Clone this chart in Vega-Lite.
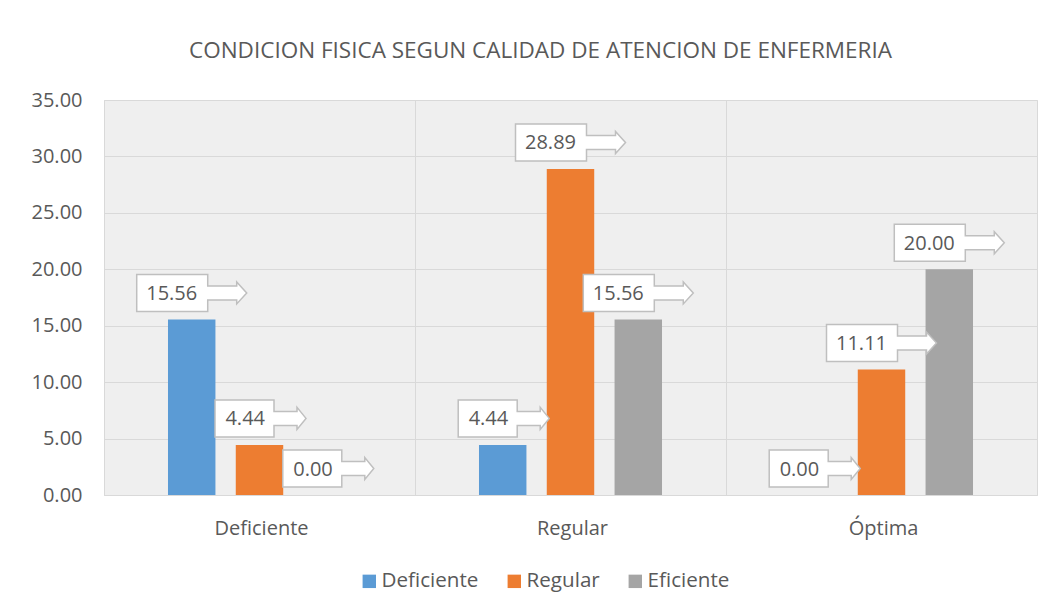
{
  "$schema": "https://vega.github.io/schema/vega-lite/v6.json",
  "width": 933,
  "height": 395,
  "autosize": {"type": "none"},
  "padding": {"left": 104, "top": 100, "right": 17, "bottom": 115},
  "background": "white",
  "title": {
    "text": "CONDICION FISICA SEGUN CALIDAD DE ATENCION DE ENFERMERIA",
    "anchor": "middle",
    "frame": "group",
    "dx": -30,
    "offset": 10,
    "baseline": "alphabetic",
    "font": "Open Sans",
    "fontSize": 22.5,
    "fontWeight": "normal",
    "color": "#595959"
  },
  "data": {
    "values": [
      {"grupo": "Deficiente", "serie": "Deficiente", "valor": 15.56},
      {"grupo": "Deficiente", "serie": "Regular", "valor": 4.44},
      {"grupo": "Deficiente", "serie": "Eficiente", "valor": 0.0},
      {"grupo": "Regular", "serie": "Deficiente", "valor": 4.44},
      {"grupo": "Regular", "serie": "Regular", "valor": 28.89},
      {"grupo": "Regular", "serie": "Eficiente", "valor": 15.56},
      {"grupo": "Óptima", "serie": "Deficiente", "valor": 0.0},
      {"grupo": "Óptima", "serie": "Regular", "valor": 11.11},
      {"grupo": "Óptima", "serie": "Eficiente", "valor": 20.0}
    ]
  },
  "encoding": {
    "x": {
      "field": "grupo",
      "type": "nominal",
      "sort": ["Deficiente", "Regular", "Óptima"],
      "scale": {"paddingInner": 0, "paddingOuter": 0},
      "axis": {
        "title": null,
        "labelAngle": 0,
        "bandPosition": 0,
        "labelOffset": 2,
        "labelFont": "Open Sans",
        "labelFontSize": 20,
        "labelColor": "#595959",
        "labelPadding": 23,
        "ticks": false,
        "domain": true,
        "domainColor": "#d9d9d9",
        "grid": true,
        "gridColor": "#d9d9d9"
      }
    },
    "xOffset": {
      "field": "serie",
      "type": "nominal",
      "sort": ["Deficiente", "Regular", "Eficiente"],
      "scale": {"paddingInner": 0.3, "paddingOuter": 0.944}
    },
    "y": {
      "field": "valor",
      "type": "quantitative",
      "scale": {"domain": [0, 35]},
      "axis": {
        "title": null,
        "values": [0, 5, 10, 15, 20, 25, 30, 35],
        "format": ".2f",
        "labelFont": "Open Sans",
        "labelFontSize": 20,
        "labelColor": "#595959",
        "labelPadding": 22,
        "ticks": false,
        "domain": false,
        "grid": true,
        "gridColor": "#d9d9d9"
      }
    }
  },
  "layer": [
    {
      "mark": {"type": "bar"},
      "encoding": {
        "color": {
          "field": "serie",
          "type": "nominal",
          "sort": ["Deficiente", "Regular", "Eficiente"],
          "scale": {"domain": ["Deficiente", "Regular", "Eficiente"], "range": ["#5b9bd5", "#ed7d31", "#a5a5a5"]},
          "legend": {
            "title": null,
            "orient": "none",
            "legendX": 255,
            "legendY": 471,
            "direction": "horizontal",
            "symbolType": "square",
            "symbolSize": 180,
            "symbolStrokeWidth": 0,
            "labelFont": "Open Sans",
            "labelFontSize": 20.6,
            "labelColor": "#595959",
            "labelOffset": 2,
            "columnPadding": 25,
            "padding": 0
          }
        }
      }
    },
    {
      "transform": [{"filter": "datum.valor >= 10"}],
      "mark": {
        "type": "point",
        "shape": "M-55,-45L16,-45L16,-33.5L45,-33.5L45,-37.5L55,-26.5L45,-15.5L45,-19.5L16,-19.5L16,-8L-55,-8Z",
        "size": 4,
        "filled": true,
        "fill": "white",
        "stroke": "#bfbfbf",
        "strokeWidth": 1.5,
        "opacity": 1
      }
    },
    {
      "transform": [{"filter": "datum.valor < 10"}],
      "mark": {
        "type": "point",
        "shape": "M-44.5,-45L14.5,-45L14.5,-33.5L37.5,-33.5L37.5,-37.5L46.5,-26.5L37.5,-15.5L37.5,-19.5L14.5,-19.5L14.5,-8L-44.5,-8Z",
        "size": 4,
        "filled": true,
        "fill": "white",
        "stroke": "#bfbfbf",
        "strokeWidth": 1.5,
        "opacity": 1
      }
    },
    {
      "mark": {
        "type": "text",
        "align": "right",
        "baseline": "middle",
        "dx": 5.5,
        "dy": -25.5,
        "font": "Open Sans",
        "fontSize": 20,
        "color": "#595959"
      },
      "encoding": {"text": {"field": "valor", "type": "quantitative", "format": ".2f"}}
    }
  ],
  "config": {
    "view": {"fill": "#efefef", "stroke": "#d9d9d9"}
  }
}
